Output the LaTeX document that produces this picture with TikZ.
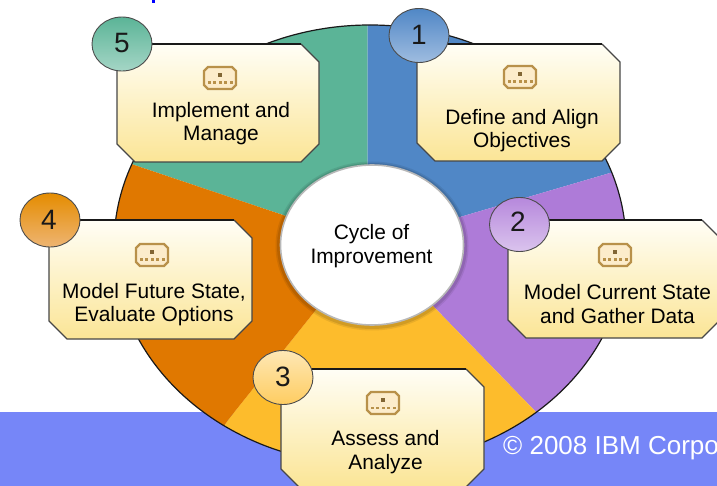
\documentclass[tikz,border=0pt]{standalone}
\usepackage{fontspec}
\setmainfont{Liberation Sans}
\definecolor{cgreen}{HTML}{5BB497}
\definecolor{cblue}{HTML}{5087C6}
\definecolor{cpurple}{HTML}{AE7BD8}
\definecolor{cyellow}{HTML}{FDBC2C}
\definecolor{corange}{HTML}{E07800}
\definecolor{cbanner}{HTML}{7686F8}
\definecolor{boxtop}{HTML}{FFFEF6}
\definecolor{boxbot}{HTML}{FBE596}
\definecolor{iconedge}{HTML}{B8914A}
\definecolor{iconfill}{HTML}{FCECCB}
\tikzset{
  lbl/.style={align=center,font=\fontsize{20.9}{23.5}\selectfont,text=black,inner sep=0pt},
  num/.style={font=\fontsize{28}{30}\selectfont,text=black!90,inner sep=0pt},
  sector/.style={draw=none},
  badge/.style={draw=black!70,line width=0.9pt},
  boxedge/.style={draw=black!72,line width=1.2pt},
  topedge/.style={draw=black!90,line width=1.7pt},
}
% octagon box: left, top, right, bottom
\newcommand{\octabox}[4]{%
  \shade[top color=boxtop,bottom color=boxbot]
    (#1,#2) -- (#3-18,#2) -- (#3,#2+18) -- (#3,#4-18) -- (#3-18,#4) -- (#1+18,#4) -- (#1,#4-18) -- cycle;
  \draw[boxedge] (#1,#2) -- (#1,#4-18) -- (#1+18,#4) -- (#3-18,#4) -- (#3,#4-18) -- (#3,#2+18) -- (#3-18,#2);
  \draw[topedge] (#1,#2) -- (#3-18,#2);
}
% icon centred at x,y
\newcommand{\iconmark}[2]{%
  \begin{scope}[shift={(#1,#2)}]
    \fill[iconfill,draw=iconedge,line width=2.2pt]
      (-12,-11) -- (12,-11) -- (16,-7) -- (16,7) -- (12,11) -- (-12,11) -- (-16,7) -- (-16,-7) -- cycle;
    \fill[iconedge!70!black] (-2,-5) rectangle (2,-1);
    \foreach \k in {-11,-5.5,0,5.5,11} \fill[iconedge] (\k-1.5,3.5) rectangle (\k+1.5,6);
  \end{scope}
}
% badge: x, y, top colour, bottom colour
\newcommand{\badgedisc}[4]{%
  \shade[top color=#3,bottom color=#4] (#1,#2) ellipse [x radius=30,y radius=27];
  \draw[badge] (#1,#2) ellipse [x radius=30,y radius=27];
}
\begin{document}
\begin{tikzpicture}[x=1pt,y=-1pt]
\useasboundingbox (0,0) rectangle (717,486);
\clip (0,0) rectangle (717,486);
\fill[white] (0,0) rectangle (717,486);
\fill[blue] (151.5,0) rectangle (154.5,3);
\fill[cbanner] (0,412) rectangle (717,486);
\node[anchor=base west,text=white,inner sep=0pt,font=\fontsize{26}{28}\selectfont] (copy) at (503,454.5) {© 2008 IBM Corpo};
% wheel
\begin{scope}
  \clip (370,245) ellipse [x radius=256,y radius=220];
  \fill[sector,cgreen] (372,245) -- (283,215) -- (-65,98) -- (-65,-20) -- (367.5,-20) -- (367.5,165) -- cycle;
  \fill[sector,cblue] (372,245) -- (367.5,165) -- (367.5,-20) -- (700,-20) -- (700,146) -- (610,173) -- (460,217) -- cycle;
  \fill[sector,cpurple] (372,245) -- (460,217) -- (610,173) -- (700,146) -- (700,600) -- (535,411) -- (433,306) -- cycle;
  \fill[sector,cyellow] (372,245) -- (433,306) -- (535,411) -- (700,600) -- (100,600) -- (228,420) -- (315,311) -- cycle;
  \fill[sector,corange] (372,245) -- (315,311) -- (228,420) -- (100,600) -- (-65,600) -- (-65,98) -- (283,215) -- cycle;
\end{scope}
\draw[black!90,line width=1.2pt] (370,245) ellipse [x radius=256,y radius=220];
% hub
\foreach \w/\o in {9/0.08,6/0.10} \draw[black,opacity=\o,line width=\w pt] (372,246) ellipse [x radius=92,y radius=80];
\draw[fill=white,draw=black!28,line width=1.6pt] (372,245) ellipse [x radius=91.5,y radius=80];
\node[lbl] (hub) at (371.5,246) {Cycle of\\Improvement};
% boxes
\octabox{117}{44}{319}{162}
\octabox{417}{44}{620}{161}
\octabox{49}{220}{252}{339}
\octabox{508}{220}{720}{338}
\octabox{281}{369}{484}{487}
\iconmark{220}{78}
\iconmark{520}{77}
\iconmark{152}{255}
\iconmark{615}{255}
\iconmark{383}{403}
\node[lbl] (t5) at (221,123.5) {Implement and\\Manage};
\node[lbl] (t1) at (522,130.5) {Define and Align\\Objectives};
\node[lbl] (t4) at (154,304.5) {Model Future State,\\Evaluate Options};
\node[lbl] (t2) at (617.5,304) {Model Current State\\and Gather Data};
\node[lbl] (t3) at (385.5,452) {Assess and\\Analyze};
% badges
\badgedisc{122}{44}{cgreen}{cgreen!55!white}
\badgedisc{419}{35.5}{cblue}{cblue!55!white}
\badgedisc{50}{220}{corange!85!yellow}{corange!55!white}
\badgedisc{519.5}{224.5}{cpurple!90!white}{cpurple!45!white}
\badgedisc{283}{377.5}{cyellow!35!white}{cyellow!75!white}
\node[num] (n5) at (122,43) {5};
\node[num] (n1) at (419,35) {1};
\node[num] (n4) at (49,220) {4};
\node[num] (n2) at (518,222) {2};
\node[num] (n3) at (283,377) {3};
\end{tikzpicture}
\end{document}
